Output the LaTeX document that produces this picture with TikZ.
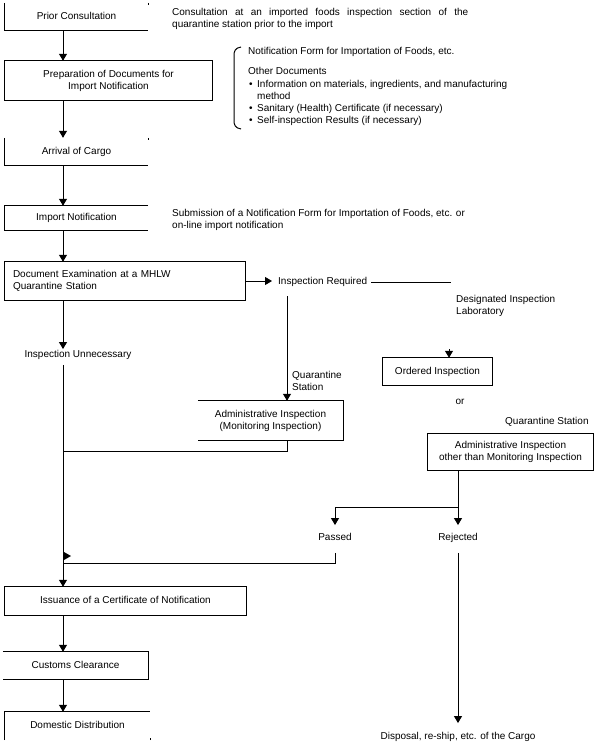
\documentclass[tikz,border=0pt]{standalone}
\usepackage{fontspec}
\setmainfont{Liberation Sans}
\usetikzlibrary{arrows.meta,calc}
\begin{document}
\begin{tikzpicture}[x=1pt,y=-1pt,
  every node/.style={font=\fontsize{10}{12}\selectfont, inner sep=0pt, text height=7.5pt, text depth=2pt},
  multi/.style={text height=, text depth=},
  box/.style={align=center},
  lbl/.style={align=left, anchor=west},
  edge/.style={line width=1pt},
  arr/.style={line width=1pt, -{Triangle[width=8pt,length=7pt]}},
]
\useasboundingbox (0,0) rectangle (600,749);
\fill[white] (0,0) rectangle (600,749);

% column coordinates
\coordinate (cx) at (63,0);
\coordinate (c287) at (287,296);
\coordinate (c449) at (449,349);
\coordinate (c458) at (458,507);
\coordinate (c450) at (451,282);
\coordinate (j1) at (63,451);
\coordinate (j2) at (63,563);

% boxes
\node[box, minimum width=143, minimum height=27] (prior) at (76.5,16.5) {Prior Consultation};
\node[box, multi, minimum width=207, minimum height=39] (prep) at (108.5,80.5) {Preparation of Documents for\\Import Notification};
\node[box, minimum width=143, minimum height=27] (arrival) at (76.5,151.5) {Arrival of Cargo};
\node[box, minimum width=143, minimum height=24] (import) at (76.5,218) {Import Notification};
\node[multi, minimum width=240, minimum height=38, align=left, text width=224] (docexam) at (125,281) {Document Examination at a MHLW\\Quarantine Station};
\node[box, multi, minimum width=145, minimum height=39] (adminmon) at (270.5,420.5) {Administrative Inspection\\(Monitoring Inspection)};
\node[box, minimum width=109, minimum height=27] (ordered) at (437.5,371.5) {Ordered Inspection};
\node[box, multi, minimum width=165, minimum height=36] (adminother) at (510.5,452) {Administrative Inspection\\other than Monitoring Inspection};
\node[box, minimum width=241, minimum height=28] (issuance) at (125.5,601) {Issuance of a Certificate of Notification};
\node[box, minimum width=145, minimum height=27] (customs) at (75.5,665.5) {Customs Clearance};
\node[box, minimum width=145, minimum height=28] (domestic) at (77.5,726) {Domestic Distribution};

% box outlines (as printed)
\draw[edge] (prior.north west) -- (prior.south west) -- (prior.south east);
\draw[edge] (prior.north east) -- ++(0,2);
\draw[edge] (prep.north west) rectangle (prep.south east);
\draw[edge] (arrival.north west) -- (arrival.south west) -- (arrival.south east);
\draw[edge] (arrival.north east) -- ++(0,2);
\draw[edge] (import.north east) -- (import.north west) -- (import.south west) -- (import.south east);
\draw[edge] (docexam.north west) rectangle (docexam.south east);
\draw[edge] (adminmon.north west) -- (adminmon.north east) -- (adminmon.south east) -- (adminmon.south west);
\draw[edge] (ordered.north west) rectangle (ordered.south east);
\draw[edge] (adminother.north west) rectangle (adminother.south east);
\draw[edge] (issuance.north west) rectangle (issuance.south east);
\draw[edge] (customs.north west) -- (customs.north east) -- (customs.south east) -- (customs.south west);
\draw[edge] (domestic.south west) -- (domestic.north west) -- (domestic.north east);
\draw[edge] (domestic.south east) -- ++(0,-2);

% labels
\node[lbl, multi] (note1) at (172,18.5) {\hbox to 296pt{Consultation at an imported foods inspection section of the}\\quarantine station prior to the import};
\node[lbl] (nf) at (248,52) {Notification Form for Importation of Foods, etc.};
\node[lbl] (od) at (248,72) {Other Documents};
\node[lbl, multi] (bl) at (249,103.5) {\begin{tabular}{@{}l@{\hspace{4.5pt}}l@{}}\textbullet & Information on materials, ingredients, and manufacturing\\ & method\\ \textbullet & Sanitary (Health) Certificate (if necessary)\\ \textbullet & Self-inspection Results (if necessary)\end{tabular}};
\node[lbl, multi] (note2) at (172,219.5) {Submission of a Notification Form for Importation of Foods, etc. or\\on-line import notification};
\node[lbl] (insreq) at (278,282) {Inspection Required};
\node[lbl, multi] (desig) at (456,305.5) {Designated Inspection\\Laboratory};
\node (insunn) at (78,355) {Inspection Unnecessary};
\node[lbl, multi] (qs1) at (292,380.5) {Quarantine\\Station};
\node (or) at (460,402) {or};
\node[lbl] (qs2) at (505,422) {Quarantine Station};
\node (passed) at (335,538) {Passed};
\node (rejected) at (458,538) {Rejected};
\node (disposal) at (458,737) {Disposal, re-ship, etc. of the Cargo};

% brace
\draw[edge] (241,47) .. controls (235,48) and (234,51) .. (234,56) -- (234,120) .. controls (234,125) and (235,128) .. (241,129);

% connectors
\draw[arr] (prior.south -| cx) -- (prep.north -| cx);
\draw[arr] (prep.south -| cx) -- (arrival.north -| cx);
\draw[arr] (arrival.south -| cx) -- (import.north -| cx);
\draw[arr] (import.south -| cx) -- (docexam.north -| cx);
\draw[arr, shorten >=6pt] (docexam.east) -- (docexam.east -| insreq.west);
\draw[edge] ([xshift=4pt]insreq.east) -- (c450);
\draw[arr] (c287) -- (c287 |- adminmon.north);
\draw[arr, shorten >=1pt] (docexam.south -| cx) -- (insunn.north -| cx);
\draw[arr, shorten <=5pt] (insunn.south -| cx) -- (issuance.north -| cx);
\draw[edge] (adminmon.south -| c287) |- (j1);
\draw[arr] (c449) -- (c449 |- ordered.north);
\draw[edge] (adminother.south -| c458) -- (c458);
\draw[arr, shorten >=8pt] (c458) -- (rejected.north);
\draw[arr, shorten >=8pt] (c458) -| (passed.north);
\draw[edge] ([yshift=-10pt]passed.south) |- (j2);
\fill (64,552) -- (71,556) -- (64,560) -- cycle;
\draw[arr, shorten >=9pt] ([yshift=-10pt]rejected.south) -- (disposal.north);
\draw[arr] (issuance.south -| cx) -- (customs.north -| cx);
\draw[arr] (customs.south -| cx) -- (domestic.north -| cx);
\end{tikzpicture}
\end{document}
